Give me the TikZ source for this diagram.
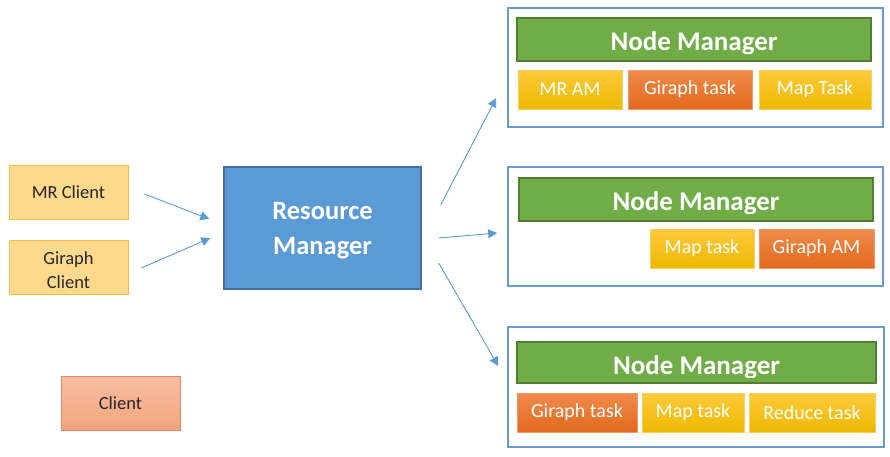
\documentclass[tikz,border=0pt]{standalone}
\usepackage{fontspec}
\setmainfont{Carlito}
\usetikzlibrary{arrows.meta,calc}

\definecolor{nmgreen}{HTML}{70AD47}
\definecolor{nmgreenline}{HTML}{507E32}
\definecolor{frameblue}{HTML}{6A9BCB}
\definecolor{rmblue}{HTML}{5B9BD5}
\definecolor{rmline}{HTML}{41719C}
\definecolor{arrowblue}{HTML}{5B9BD5}
\definecolor{clientfill}{HTML}{FFD98C}
\definecolor{clientline}{HTML}{F2BE4A}
\definecolor{yeltop}{HTML}{FFCA3A}
\definecolor{yelbot}{HTML}{EDB800}
\definecolor{yelline}{HTML}{F8CF60}
\definecolor{orgtop}{HTML}{F08A4B}
\definecolor{orgbot}{HTML}{E2691E}
\definecolor{orgline}{HTML}{F29A65}
\definecolor{saltop}{HTML}{F8BEA2}
\definecolor{salbot}{HTML}{F4A47F}
\definecolor{salline}{HTML}{E58A5A}

\tikzset{
  frame/.style={draw=frameblue, line width=1.6pt, fill=white},
  nmbar/.style={draw=nmgreenline, line width=1.2pt, fill=nmgreen, inner sep=0pt},
  nmtext/.style={text=white, font=\bfseries\fontsize{27}{30}\selectfont, inner sep=0pt, anchor=base},
  taskbase/.style={inner sep=0pt, text=white, font=\fontsize{20}{23}\selectfont, line width=0.8pt},
  yeltask/.style={taskbase, draw=yelline, top color=yeltop, bottom color=yelbot},
  orgtask/.style={taskbase, draw=orgline, top color=orgtop, bottom color=orgbot},
  clientbox/.style={draw=clientline, fill=clientfill, line width=0.8pt, inner sep=0pt,
    minimum width=119pt, minimum height=54pt},
  clienttext/.style={inner sep=0pt, align=center, font=\fontsize{18.5}{24}\selectfont, text=black!85},
  rmbox/.style={draw=rmline, fill=rmblue, line width=1.4pt, inner sep=0pt},
  rmtext/.style={inner sep=0pt, align=center, text=white, font=\bfseries\fontsize{26.5}{35}\selectfont},
  salbox/.style={draw=salline, top color=saltop, bottom color=salbot, line width=0.8pt,
    inner sep=0pt, minimum width=119pt, minimum height=54pt,
    font=\fontsize{18.5}{22}\selectfont, text=black!85},
  flow/.style={draw=arrowblue, line width=0.9pt, -{Triangle[length=9pt,width=9pt]}},
}

\begin{document}
\begin{tikzpicture}[x=1pt,y=-1pt]
\useasboundingbox (0,0) rectangle (890,456);

% clients and resource manager
\node[clientbox] (mrc) at (68.5,192) {};
\node[clienttext] (mrclabel) at ($(mrc.center)+(0,0.5)$) {MR Client};
\node[clientbox] (grc) at (68.5,267) {};
\node[clienttext] (grclabel) at ($(grc.center)+(0,3)$) {Giraph\\Client};
\node[rmbox, minimum width=197pt, minimum height=122pt] (rm) at (322.5,228) {};
\node[rmtext] (rmlabel) at ($(rm.center)+(0,3)$) {Resource\\Manager};
\node[salbox] (cl) at (120.5,403) {Client};

% node manager frames
\node[frame, minimum width=375pt, minimum height=119pt] (f1) at (695.5,67.5) {};
\node[frame, minimum width=375pt, minimum height=119pt] (f2) at (695.5,226.5) {};
\node[frame, minimum width=376pt, minimum height=120pt] (f3) at (696,387) {};

% green node manager bars
\node[nmbar, minimum width=354pt, minimum height=43pt] (nm1) at (694,39.5) {};
\node[nmbar, minimum width=354pt, minimum height=43pt] (nm2) at (696,199.5) {};
\node[nmbar, minimum width=359pt, minimum height=41pt] (nm3) at (696.5,362.5) {};

% bar titles, cut just below the baseline
\begin{scope}
  \clip (nm1.north west) rectangle ($(nm1.east)+(0,13.5)$);
  \node[nmtext] (t1) at ($(nm1.center)+(0,10.5)$) {Node Manager};
\end{scope}
\begin{scope}
  \clip (nm2.north west) rectangle ($(nm2.east)+(0,13.5)$);
  \node[nmtext] (t2) at ($(nm2.center)+(0,10.5)$) {Node Manager};
\end{scope}
\begin{scope}
  \clip (nm3.north west) rectangle ($(nm3.east)+(0,14.5)$);
  \node[nmtext] (t3) at ($(nm3.center)+(0,11.5)$) {Node Manager};
\end{scope}

% tasks
\node[yeltask, minimum width=104pt, minimum height=39pt] (a1) at (570,89.5) {MR AM};
\node[orgtask, minimum width=124pt, minimum height=39pt] (a2) at (690,89.5) {Giraph task};
\node[yeltask, minimum width=112pt, minimum height=39pt] (a3) at (815,89.5) {Map Task};

\node[yeltask, minimum width=104pt, minimum height=39pt] (b1) at (702,248.5) {Map task};
\node[orgtask, minimum width=115pt, minimum height=39pt] (b2) at (816.5,248.5) {Giraph AM};

\node[orgtask, minimum width=120pt, minimum height=39pt] (c1) at (577,412.5) {Giraph task};
\node[yeltask, minimum width=102pt, minimum height=39pt] (c2) at (693,412.5) {Map task};
\node[yeltask, minimum width=126pt, minimum height=39pt] (c3) at (812,412.5) {Reduce task};

% arrow ends, kept clear of the boxes
\coordinate (s1) at ($(mrc.east)+(16,2)$);
\coordinate (e1) at ($(rm.west)+(-14,-9)$);
\coordinate (s2) at ($(grc.east)+(13,1)$);
\coordinate (e2) at ($(rm.west)+(-13,10)$);
\coordinate (s3) at ($(rm.east)+(19,-23)$);
\coordinate (e3) at ($(f1.west)+(-11,30.5)$);
\coordinate (s4) at ($(rm.east)+(17,10)$);
\coordinate (e4) at ($(f2.west)+(-10,6.5)$);
\coordinate (s5) at ($(rm.east)+(17,35)$);
\coordinate (e5) at ($(f3.west)+(-9,-21)$);

\draw[flow] (s1) -- (e1);
\draw[flow] (s2) -- (e2);
\draw[flow] (s3) -- (e3);
\draw[flow] (s4) -- (e4);
\draw[flow] (s5) -- (e5);
\end{tikzpicture}
\end{document}
